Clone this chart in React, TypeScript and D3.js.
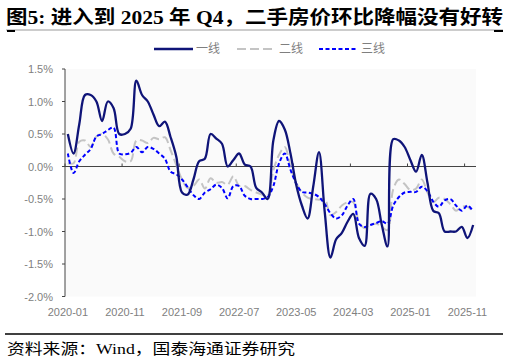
import * as d3 from 'd3'

const W = 509
const H = 360

// 2020-01 .. 2025-12
const months: string[] = []
for (let y = 2020; y <= 2025; y++) {
  for (let m = 1; m <= 12; m++) months.push(`${y}-${String(m).padStart(2, '0')}`)
}

const tier1 = [
  0.5, 0.2, 0.65, 1.1, 1.1, 1.0, 0.7, 1.0, 0.9, 0.5, 0.5, 0.58,
  1.32, 1.1, 1.0, 0.8, 0.62, 0.69, 0.45, 0.15, -0.4, -0.43, -0.2, 0.08,
  0.12, 0.5, 0.43, 0.35, 0.0, 0.1, 0.2, 0.03, 0.0, -0.33, -0.4, -0.5,
  0.4, 0.7, 0.57, 0.2, -0.28, -0.6, -0.8, -0.3, 0.22, -0.7, -1.4, -1.12,
  -1.02, -0.85, -0.73, -1.1, -1.22, -0.42, -0.5, -0.9, -1.23, 0.42, 0.4, 0.3,
  0.1, -0.08, 0.18, -0.25, -0.68, -0.72, -1.0, -1.0, -1.0, -0.93, -1.1, -0.9,
]
const tier2 = [
  0.05, 0.05, 0.38, 0.4, 0.3, 0.46, 0.5, 0.42, 0.2, 0.15, 0.08, 0.08,
  0.4, 0.4, 0.36, 0.44, 0.42, 0.45, 0.25, 0.02, -0.2, -0.33, -0.3, -0.2,
  -0.34, -0.18, -0.25, -0.24, -0.28, -0.15, -0.3, -0.3, -0.36, -0.4, -0.43, -0.45,
  -0.06, 0.18, 0.3, 0.0, -0.25, -0.4, -0.48, -0.5, -0.51, -0.5, -0.75, -0.7,
  -0.6, -0.55, -0.55, -0.85, -0.95, -0.9, -0.88, -0.93, -0.98, -0.35, -0.2, -0.27,
  -0.36, -0.34, -0.2, -0.4, -0.55, -0.48, -0.5, -0.58, -0.68, -0.62, -0.62, -0.69,
]
const tier3 = [
  0.2, -0.1, 0.08, 0.18, 0.27, 0.46, 0.5, 0.56, 0.6, 0.2, 0.19, 0.21,
  0.3, 0.22, 0.3, 0.27, 0.2, 0.12, -0.08, -0.12, -0.2, -0.32, -0.44, -0.5,
  -0.4, -0.35, -0.28, -0.33, -0.49, -0.3, -0.3, -0.45, -0.5, -0.5, -0.5, -0.47,
  -0.3, 0.05, 0.2, -0.05, -0.26, -0.39, -0.4, -0.42, -0.47, -0.58, -0.72, -0.8,
  -0.75, -0.6, -0.5, -0.88, -0.93, -0.9, -0.87, -0.84, -0.88, -0.6, -0.47, -0.4,
  -0.39, -0.39, -0.31, -0.38, -0.54, -0.62, -0.52, -0.5, -0.6, -0.68, -0.6, -0.69,
]

const yTicks = [1.5, 1.0, 0.5, 0.0, -0.5, -1.0, -1.5, -2.0]

const series = [
  { name: '一线', values: tier1, color: '#0f1478', dash: '', width: 2.3 },
  { name: '二线', values: tier2, color: '#c4c4c4', dash: '9,4', width: 2 },
  { name: '三线', values: tier3, color: '#0000ff', dash: '4,2.5', width: 2 },
]

const plot = { left: 65, right: 476, top: 69, bottom: 296.5 }

export default function App() {
  const x = d3.scaleBand<string>().domain(months).range([plot.left, plot.right]).padding(0)
  const y = d3.scaleLinear().domain([-2, 1.5]).range([plot.bottom, plot.top])
  const cx = (i: number) => (x(months[i]) ?? 0) + x.bandwidth() / 2

  const line = d3.line<number>()
    .x((_, i) => cx(i))
    .y((d) => y(d))
    .curve(d3.curveCatmullRom.alpha(0.5))

  const labelIdx = months.map((_, i) => i).filter((i) => i % 10 === 0)
  const axisFont = "'Liberation Sans', Arial, sans-serif"
  const legendX = [154, 237, 319]

  return (
    <svg width={W} height={H} style={{ position: 'absolute', left: 0, top: 0, background: '#fff' }}>
      {/* title */}
      <text
        x={6} y={24}
        fontFamily="'Liberation Serif', 'Noto Sans CJK SC', serif"
        fontWeight="bold" fontSize={19} fill="#000"
        textLength={497} lengthAdjust="spacingAndGlyphs"
      >
        图5:  进入到 2025 年 Q4，二手房价环比降幅没有好转
      </text>
      <line x1={6} x2={503} y1={30} y2={30} stroke="#9a9a9a" strokeWidth={1} />
      <line x1={7} x2={15} y1={31} y2={31} stroke="#000" strokeWidth={2} />
      <line x1={494} x2={503} y1={31} y2={31} stroke="#000" strokeWidth={2} />

      {/* legend */}
      {series.map((s, k) => (
        <g key={s.name}>
          <line x1={legendX[k]} x2={legendX[k] + 39} y1={49} y2={49}
            stroke={s.color} strokeWidth={s.width} strokeDasharray={s.dash || undefined} />
          <text x={legendX[k] + 42} y={53} fontSize={12} fill="#7f7f7f"
            fontFamily="'Noto Sans CJK SC', sans-serif">{s.name}</text>
        </g>
      ))}

      {/* plot background */}
      <rect x={plot.left} y={plot.top} width={plot.right - plot.left} height={plot.bottom - plot.top} fill="#fafafa" />

      {/* y axis */}
      <line x1={plot.left} x2={plot.left} y1={plot.top} y2={plot.bottom} stroke="#444" strokeWidth={1} />
      {yTicks.map((t) => (
        <g key={t}>
          <line x1={plot.left - 3} x2={plot.left} y1={y(t)} y2={y(t)} stroke="#444" />
          <text x={53} y={y(t) + 4} textAnchor="end" fontSize={11} fill="#808080" fontFamily={axisFont}>
            {`${t < 0 ? '-' : ''}${Math.abs(t).toFixed(1)}%`}
          </text>
        </g>
      ))}

      {/* zero line with ticks */}
      <line x1={plot.left} x2={plot.right} y1={y(0)} y2={y(0)} stroke="#444" strokeWidth={1} />
      {labelIdx.map((i) => (
        <line key={i} x1={x(months[i])} x2={x(months[i])} y1={y(0) - 3} y2={y(0)} stroke="#444" />
      ))}

      {/* x labels */}
      {labelIdx.map((i) => (
        <text key={i} x={cx(i)} y={316} textAnchor="middle" fontSize={11} fill="#808080" fontFamily={axisFont}>
          {months[i]}
        </text>
      ))}

      {/* series */}
      {[series[1], series[2], series[0]].map((s) => (
        <path key={s.name} d={line(s.values) ?? ''} fill="none" stroke={s.color}
          strokeWidth={s.width} strokeDasharray={s.dash || undefined} strokeLinejoin="round" />
      ))}

      {/* footer */}
      <line x1={5} x2={503} y1={334} y2={334} stroke="#000" strokeWidth={1.5} />
      <text x={7} y={354} fontSize={15} fill="#000"
        fontFamily="'Liberation Serif', 'Noto Sans CJK SC', serif"
        textLength={288} lengthAdjust="spacingAndGlyphs">
        资料来源：Wind，国泰海通证券研究
      </text>
    </svg>
  )
}
